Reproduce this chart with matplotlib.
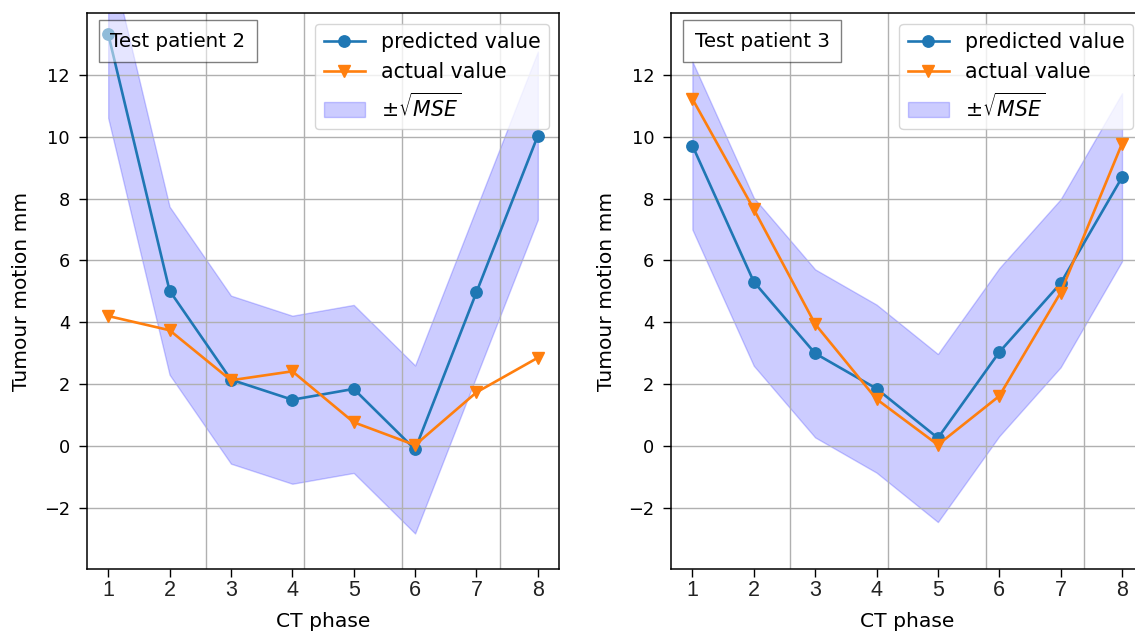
import numpy as np
import matplotlib
matplotlib.use("Agg")
import matplotlib.pyplot as plt

# CT phases (breathing cycle) and tumour motion in mm
phases = [1, 2, 3, 4, 5, 6, 7, 8]

p2_predicted = [13.33, 5.02, 2.14, 1.49, 1.84, -0.12, 4.97, 10.04]
p2_actual = [4.20, 3.74, 2.12, 2.41, 0.76, 0.02, 1.73, 2.85]

p3_predicted = [9.72, 5.31, 2.99, 1.85, 0.25, 3.03, 5.26, 8.69]
p3_actual = [11.23, 7.66, 3.94, 1.51, 0.03, 1.61, 4.96, 9.78]

rmse = 2.72  # sqrt of the model's mean squared error

patients = [
    ("Test patient 2", p2_predicted, p2_actual),
    ("Test patient 3", p3_predicted, p3_actual),
]

fig = plt.figure(figsize=(11.35, 6.33), dpi=100)
positions = [
    [0.0764, 0.1006, 0.4164, 0.8784],
    [0.5911, 0.1006, 0.4164, 0.8784],
]

for pos, (title, pred, act) in zip(positions, patients):
    ax = fig.add_axes(pos)
    x = np.array(phases)
    pred = np.array(pred)
    ax.plot(x, pred, marker="o", color="#1f77b4", lw=1.9, ms=8.2,
            label="predicted value")
    ax.plot(x, act, marker="v", color="#ff7f0e", lw=1.9, ms=8.2,
            label="actual value")
    ax.fill_between(x, pred - rmse, pred + rmse, color="blue", alpha=0.2,
                    label=r"$\pm\sqrt{MSE}$")

    ax.set_ylim(-4, 14)
    ax.set_yticks(np.arange(-2, 13, 2))
    ax.set_xticks(phases)
    ax.set_xticks(np.arange(1, 8, 1.594), minor=True)
    ax.grid(False)
    ax.xaxis.grid(True, which="minor", color="#b0b0b0", lw=1.0)
    ax.yaxis.grid(True, which="major", color="#b0b0b0", lw=1.0)
    ax.tick_params(axis="x", which="minor", length=0)
    ax.tick_params(axis="both", which="major", length=5.5, width=1.0)
    ax.tick_params(axis="y", labelsize=12.8, pad=6.5)
    ax.tick_params(axis="x", labelsize=15.5, pad=2.5, labelcolor="#222222")
    for lbl in ax.get_xticklabels():
        lbl.set_fontfamily("Liberation Sans")
    for sp in ax.spines.values():
        sp.set_linewidth(1.1)

    ax.set_xlabel("CT phase", fontsize=14.6, labelpad=7.5)
    ax.set_ylabel("Tumour motion mm", fontsize=14.6, labelpad=9)

    ax.text(0.05, 0.94, title, transform=ax.transAxes, fontsize=14.3,
            bbox=dict(facecolor="white", alpha=0.5, pad=8.5))
    ax.legend(loc="upper right", fontsize=14.8)

fig.savefig("out.png", dpi=100)
